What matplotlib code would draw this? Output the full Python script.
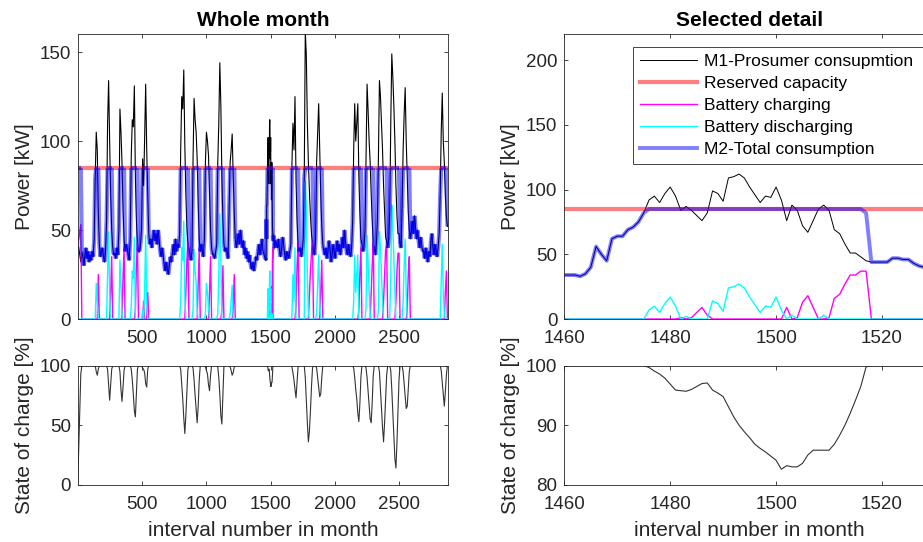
import numpy as np
import matplotlib
matplotlib.use('Agg')
import matplotlib.pyplot as plt
from matplotlib.collections import LineCollection

plt.rcParams['font.family'] = ['Liberation Sans', 'DejaVu Sans']

reserved_capacity = 85
step = 8  # coarse sampling of the whole month (intervals)

# prosumer consumption M1 [kW], one row per day, sampled every 8 intervals
m1_days = [
    [42, 40, 36, 32, 38, 35, 30, 36, 40, 34, 38, 32],
    [36, 33, 38, 35, 45, 80, 105, 95, 60, 42, 35, 38],
    [40, 35, 32, 38, 55, 110, 134, 100, 70, 50, 40, 36],
    [37, 34, 40, 36, 50, 118, 105, 88, 62, 45, 38, 42],
    [40, 36, 33, 45, 92, 112, 108, 131, 80, 55, 42, 38],
    [38, 42, 50, 90, 75, 102, 132, 95, 70, 48, 42, 45],
    [40, 46, 50, 44, 48, 42, 50, 45, 38, 35, 40, 36],
    [30, 27, 32, 28, 25, 30, 35, 32, 38, 42, 36, 45],
    [38, 42, 40, 48, 95, 125, 118, 140, 98, 70, 52, 42],
    [40, 36, 33, 38, 90, 124, 112, 105, 90, 65, 45, 38],
    [42, 38, 35, 45, 88, 105, 100, 92, 70, 50, 40, 36],
    [36, 34, 38, 42, 88, 110, 144, 120, 80, 55, 42, 38],
    [40, 37, 34, 60, 88, 95, 104, 80, 60, 45, 40, 45],
    [48, 42, 50, 45, 40, 44, 36, 40, 34, 38, 32, 36],
    [30, 28, 32, 27, 30, 35, 33, 38, 42, 36, 40, 45],
    [38, 36, 34, 40, 71, 95, 97, 90, 72, 58, 44, 40],
    [44, 42, 40, 45, 38, 35, 40, 46, 42, 36, 33, 38],
    [36, 34, 38, 42, 86, 110, 95, 125, 78, 55, 42, 38],
    [40, 35, 38, 45, 80, 162, 148, 110, 88, 72, 58, 48],
    [42, 38, 36, 45, 88, 105, 121, 96, 70, 52, 42, 38],
    [36, 40, 34, 38, 44, 40, 32, 36, 42, 38, 34, 40],
    [44, 38, 42, 36, 40, 46, 40, 50, 44, 38, 36, 42],
    [38, 35, 40, 55, 95, 121, 100, 110, 121, 80, 60, 45],
    [42, 38, 40, 50, 92, 132, 117, 100, 88, 70, 55, 42],
    [40, 36, 42, 55, 90, 134, 125, 110, 95, 75, 60, 46],
    [44, 40, 45, 60, 110, 149, 136, 120, 100, 75, 58, 48],
    [48, 42, 40, 62, 95, 115, 130, 100, 80, 60, 50, 45],
    [50, 55, 48, 58, 52, 45, 50, 44, 40, 46, 42, 38],
    [38, 34, 40, 36, 32, 38, 35, 44, 48, 40, 36, 42],
    [38, 35, 40, 48, 70, 105, 127, 100, 88, 70, 58, 52],
]

# battery state of charge [%], same sampling
full = [100] * 12
soc_days = [
    [0, 30, 62, 93, 100, 100, 100, 100, 100, 100, 100, 100],
    [100, 100, 100, 100, 100, 100, 95, 92, 97, 100, 100, 100],
    [100, 100, 100, 100, 100, 97, 84, 71, 84, 97, 100, 100],
    [100, 100, 100, 100, 100, 95, 80, 70, 82, 96, 100, 100],
    [100, 100, 100, 100, 97, 88, 76, 62, 57, 78, 97, 100],
    [100, 100, 100, 98, 97, 94, 85, 82, 97, 100, 100, 100],
    full,
    full,
    [100, 100, 100, 100, 97, 85, 72, 56, 43, 58, 78, 97],
    [100, 100, 100, 100, 98, 88, 75, 64, 52, 66, 88, 100],
    [100, 100, 100, 100, 99, 96, 93, 84, 79, 92, 100, 100],
    [100, 100, 100, 100, 99, 90, 76, 58, 51, 76, 100, 100],
    [100, 100, 100, 100, 99, 96, 92, 94, 99, 100, 100, 100],
    full,
    full,
    [100, 100, 100, 100, 100, 96, 95.4, 86.2, 83.3, 89.8, 100, 100],
    full,
    [100, 100, 100, 100, 99, 94, 88, 80, 73, 86, 99, 100],
    [100, 100, 100, 100, 100, 90, 70, 52, 36, 45, 62, 82],
    [98, 100, 100, 100, 98, 90, 82, 74, 76, 90, 100, 100],
    full,
    full,
    [100, 100, 100, 100, 98, 90, 80, 72, 60, 53, 68, 90],
    [100, 100, 100, 100, 98, 90, 78, 66, 55, 52, 70, 92],
    [100, 100, 100, 100, 100, 95, 80, 64, 48, 36, 52, 72],
    [92, 100, 100, 100, 96, 80, 60, 40, 22, 14, 35, 62],
    [88, 100, 100, 100, 95, 85, 74, 64, 66, 80, 95, 100],
    full,
    full,
    [100, 100, 100, 100, 100, 96, 86, 76, 66, 78, 92, 100],
]

# selected detail, every interval from 1460
detail_start = 1460
detail_m1 = [34, 34, 34, 33, 35, 40, 56, 50, 45, 62,
             64, 64, 69, 71, 75, 82, 92, 95, 90, 97,
             102, 95, 84, 87, 84, 80, 76, 82, 99, 97,
             91, 109, 110, 112, 109, 102, 96, 90, 95, 94,
             102, 92, 76, 88, 84, 72, 67, 76, 85, 88,
             84, 69, 66, 58, 51, 51, 48, 45, 44, 44,
             44, 44, 47, 47, 46, 46, 43, 41, 40, 40, 40]
detail_charge = [0, 0, 0, 0, 0, 0, 0, 0, 0, 0,
                 0, 0, 0, 0, 0, 0, 0, 0, 0, 0,
                 0, 0, 1, 0, 1, 5, 9, 3, 0, 0,
                 0, 0, 0, 0, 0, 0, 0, 0, 0, 0,
                 0, 0, 9, 0, 1, 13, 18, 9, 0, 0,
                 1, 16, 19, 27, 34, 34, 37, 37, 0, 0,
                 0, 0, 0, 0, 0, 0, 0, 0, 0, 0, 0]
detail_discharge = [0, 0, 0, 0, 0, 0, 0, 0, 0, 0,
                    0, 0, 0, 0, 0, 0, 7, 10, 5, 12,
                    17, 10, 0, 2, 0, 0, 0, 0, 14, 12,
                    6, 24, 25, 27, 24, 17, 11, 5, 10, 9,
                    17, 7, 0, 3, 0, 0, 0, 0, 0, 3,
                    0, 0, 0, 0, 0, 0, 0, 0, 0, 0,
                    0, 0, 0, 0, 0, 0, 0, 0, 0, 0, 0]
detail_soc = [100] * 16 + [99.7, 99.1, 98.6, 97.9,
              96.9, 95.9, 95.8, 95.7, 96.0, 96.5, 97.0, 97.1, 95.9, 95.4,
              94.8, 93.1, 91.4, 90.0, 88.9, 87.9, 86.8, 86.1, 85.5, 84.8,
              84.1, 82.6, 83.2, 83.0, 83.0, 83.6, 85.0, 85.8, 85.8, 85.8,
              85.8, 86.8, 88.3, 90.0, 92.0, 94.2, 96.5, 99.8] + [100] * 13

# --- build month series (coarse grid with the detail spliced in)
x_c = 1 + step * np.arange(len(m1_days) * 12)
m1_c = np.array(m1_days, dtype=float).ravel()
soc_c = np.array(soc_days, dtype=float).ravel()
x_d = detail_start + np.arange(len(detail_m1))
lo = x_c < x_d[0]
hi = x_c > x_d[-1]
x_m = np.concatenate([x_c[lo], x_d, x_c[hi]])
m1_m = np.concatenate([m1_c[lo], detail_m1, m1_c[hi]])
soc_m = np.concatenate([soc_c[lo], detail_soc, soc_c[hi]])

active = (soc_m < 100) | (m1_m > reserved_capacity)
m2_m = np.where(active, reserved_capacity, m1_m)
charge_m = np.where(active & (m1_m < reserved_capacity), reserved_capacity - m1_m, 0)
discharge_m = np.clip(m1_m - reserved_capacity, 0, None)

d_m1 = np.array(detail_m1, dtype=float)
d_m2 = d_m1 + np.array(detail_charge) - np.array(detail_discharge)

dark = (0.15, 0.15, 0.15)
red = (1, 0, 0, 0.5)
blue = (0, 0, 1, 0.5)
magenta = '#ff00ff'
cyan = '#00ffff'


def style(ax):
    ax.tick_params(direction='in', top=True, right=True, length=3, width=0.6,
                   labelsize=13.5, colors=dark, pad=5)
    ax.tick_params(axis='x', pad=8)
    for s in ax.spines.values():
        s.set_color(dark)
        s.set_linewidth(0.6)


fig = plt.figure(figsize=(9.23, 5.42), dpi=100)
ax1 = fig.add_axes([0.0842, 0.4114, 0.4015, 0.5253])
ax2 = fig.add_axes([0.0842, 0.1057, 0.4015, 0.2196])
ax3 = fig.add_axes([0.6114, 0.4114, 0.4015, 0.5253])
ax4 = fig.add_axes([0.6114, 0.1057, 0.4015, 0.2196])

# whole month
ax1.plot(x_m, m1_m, color='k', lw=0.8)
ax1.axhline(reserved_capacity, color=red, lw=3)
ax1.plot(x_m, charge_m, color=magenta, lw=1.0)
ax1.plot(x_m, discharge_m, color=cyan, lw=1.0)
pts = np.column_stack([x_m, m2_m])
segs = np.stack([pts[:-1], pts[1:]], axis=1)
ax1.add_collection(LineCollection(segs, colors=[blue], linewidths=3, capstyle='butt'))
ax1.set_xlim(1, 2880)
ax1.set_ylim(0, 160)
ax1.set_xticks([500, 1000, 1500, 2000, 2500])
ax1.set_yticks([0, 50, 100, 150])
ax1.set_ylabel('Power [kW]', fontsize=15, color=dark, labelpad=4)
ax1.set_title('Whole month', fontsize=15, fontweight='bold', pad=6)
style(ax1)

ax2.plot(x_m, soc_m, color=(0.2, 0.2, 0.2), lw=0.8)
ax2.set_xlim(1, 2880)
ax2.set_ylim(0, 100)
ax2.set_xticks([500, 1000, 1500, 2000, 2500])
ax2.set_yticks([0, 50, 100])
ax2.set_ylabel('State of charge [%]', fontsize=15, color=dark, labelpad=4)
ax2.set_xlabel('interval number in month', fontsize=15, color=dark, labelpad=6)
style(ax2)

# selected detail
ax3.plot(x_d, d_m1, color='k', lw=0.7, label='M1-Prosumer consupmtion')
ax3.axhline(reserved_capacity, color=red, lw=3, label='Reserved capacity')
ax3.plot(x_d, detail_charge, color=magenta, lw=1.0, label='Battery charging')
ax3.plot(x_d, detail_discharge, color=cyan, lw=1.0, label='Battery discharging')
ax3.plot(x_d, d_m2, color=blue, lw=2.8, label='M2-Total consumption')
ax3.set_xlim(1460, 1530)
ax3.set_ylim(0, 220)
ax3.set_xticks([1460, 1480, 1500, 1520])
ax3.set_yticks([0, 50, 100, 150, 200])
ax3.set_ylabel('Power [kW]', fontsize=15, color=dark, labelpad=4)
ax3.set_title('Selected detail', fontsize=15, fontweight='bold', pad=6)
style(ax3)
leg = ax3.legend(loc='upper left',
                 bbox_to_anchor=(633.3 / 923, 1 - 163.3 / 542, 300 / 923, 116.6 / 542),
                 bbox_transform=fig.transFigure, mode='expand', borderaxespad=0,
                 fontsize=12.5, handlelength=3.25, handletextpad=0.4,
                 labelspacing=0.4, borderpad=0.4, fancybox=False, framealpha=1)
leg.get_frame().set_edgecolor(dark)
leg.get_frame().set_linewidth(0.6)

ax4.plot(x_d, detail_soc, color=(0.2, 0.2, 0.2), lw=0.8)
ax4.set_xlim(1460, 1530)
ax4.set_ylim(80, 100)
ax4.set_xticks([1460, 1480, 1500, 1520])
ax4.set_yticks([80, 90, 100])
ax4.set_ylabel('State of charge [%]', fontsize=15, color=dark, labelpad=4)
ax4.set_xlabel('interval number in month', fontsize=15, color=dark, labelpad=6)
style(ax4)

fig.savefig('out.png', dpi=100)
